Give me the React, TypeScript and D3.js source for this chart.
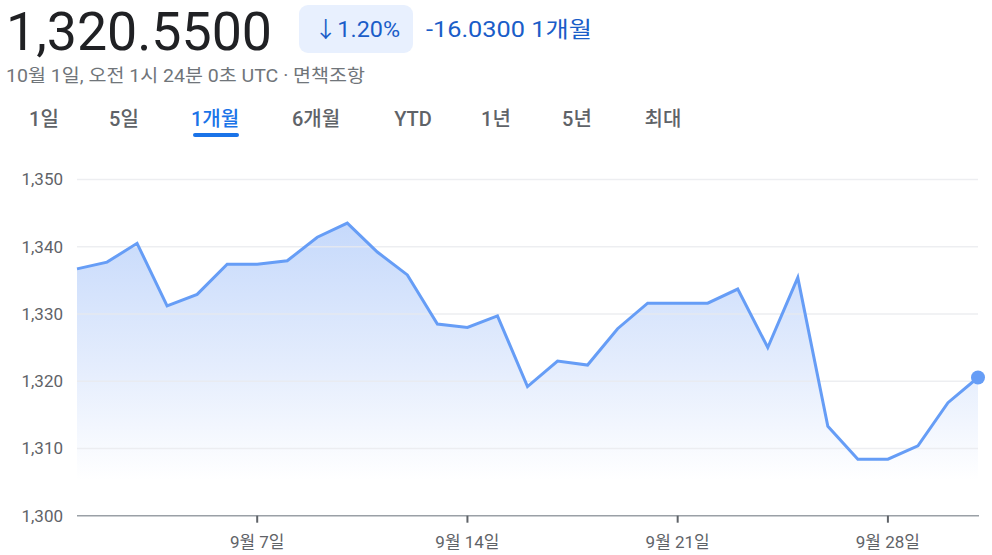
import React from "react";
import * as d3 from "d3";

const dates: string[] = [
  "2024-09-01","2024-09-02","2024-09-03","2024-09-04","2024-09-05","2024-09-06","2024-09-07",
  "2024-09-08","2024-09-09","2024-09-10","2024-09-11","2024-09-12","2024-09-13","2024-09-14",
  "2024-09-15","2024-09-16","2024-09-17","2024-09-18","2024-09-19","2024-09-20","2024-09-21",
  "2024-09-22","2024-09-23","2024-09-24","2024-09-25","2024-09-26","2024-09-27","2024-09-28",
  "2024-09-29","2024-09-30","2024-10-01",
];
const values: number[] = [
  1336.7, 1337.7, 1340.5, 1331.2, 1332.9, 1337.4, 1337.4,
  1337.9, 1341.4, 1343.5, 1339.2, 1335.8, 1328.5, 1328.0,
  1329.7, 1319.2, 1323.0, 1322.4, 1327.8, 1331.6, 1331.6,
  1331.6, 1333.7, 1325.0, 1335.4, 1313.3, 1308.4, 1308.4,
  1310.4, 1316.8, 1320.55,
];
const yTicks: number[] = [1300, 1310, 1320, 1330, 1340, 1350];
const xTickDates: string[] = ["2024-09-07", "2024-09-14", "2024-09-21", "2024-09-28"];
const xTickLabels: string[] = ["9월 7일", "9월 14일", "9월 21일", "9월 28일"];
const tabs: string[] = ["1일", "5일", "1개월", "6개월", "YTD", "1년", "5년", "최대"];
const tabX: number[] = [44, 124, 215, 316, 413, 496, 577, 663];
const selectedTab = 2;

const FONT = "Roboto, 'Noto Sans CJK KR', 'Noto Sans', sans-serif";

export default function App() {
  const W = 992, H = 555;
  const parse = d3.timeParse("%Y-%m-%d");
  const data = dates.map((d, i) => ({ date: parse(d) as Date, value: values[i] }));
  const x = d3.scaleTime()
    .domain([parse(dates[0]) as Date, parse(dates[dates.length - 1]) as Date])
    .range([77, 978]);
  const y = d3.scaleLinear().domain([1300, 1350]).range([515.7, 179.4]);

  const line = d3.line<{ date: Date; value: number }>()
    .x(d => x(d.date)).y(d => y(d.value));
  const area = d3.area<{ date: Date; value: number }>()
    .x(d => x(d.date)).y0(y(1300)).y1(d => y(d.value));
  const last = data[data.length - 1];

  return (
    <div style={{ position: "absolute", left: 0, top: 0, width: W, height: H, background: "#fff" }}>
      <svg width={W} height={H} style={{ display: "block", fontFamily: FONT }}>
        <defs>
          <linearGradient id="areaGrad" gradientUnits="userSpaceOnUse" x1="0" y1="215" x2="0" y2="480">
            <stop offset="0" stopColor="#c4d8fb" />
            <stop offset="0.6" stopColor="#e6eefd" />
            <stop offset="1" stopColor="#ffffff" />
          </linearGradient>
        </defs>

        {/* Header */}
        <text x={6} y={50} fontSize={54} fill="#202124" textLength={266} lengthAdjust="spacingAndGlyphs">1,320.5500</text>
        <rect x={299} y={5} width={114} height={48} rx={9} fill="#e8f0fe" />
        <text x={314} y={37} fontSize={22} fill="#1a5dc8" textLength={86} lengthAdjust="spacingAndGlyphs">↓1.20%</text>
        <text x={426} y={37} fontSize={22} fill="#1a5dc8" textLength={166} lengthAdjust="spacingAndGlyphs">-16.0300 1개월</text>
        <text x={6} y={82} fontSize={18} fill="#70757a" textLength={359} lengthAdjust="spacingAndGlyphs">10월 1일, 오전 1시 24분 0초 UTC · 면책조항</text>

        {/* Tabs */}
        {tabs.map((t, i) => (
          <text key={t} x={tabX[i]} y={126} fontSize={20} fontWeight={500} textAnchor="middle"
            fill={i === selectedTab ? "#1a73e8" : "#5f6368"}>{t}</text>
        ))}
        <rect x={193} y={133} width={46} height={4} rx={2} fill="#1a73e8" />

        {/* Area */}
        <path d={area(data) || ""} fill="url(#areaGrad)" />

        {/* Gridlines */}
        {yTicks.filter(t => t !== 1300).map(t => (
          <line key={t} x1={77} x2={978} y1={y(t)} y2={y(t)} stroke="#e8eaed" strokeOpacity={0.8} strokeWidth={1.5} />
        ))}
        {yTicks.map(t => (
          <text key={"yl" + t} x={63} y={y(t) + 6} fontSize={17} textAnchor="end" fill="#5f6368">
            {d3.format(",")(t)}
          </text>
        ))}

        {/* Baseline */}
        <line x1={77} x2={979} y1={y(1300)} y2={y(1300)} stroke="#9aa0a6" strokeWidth={1.5} />
        {xTickDates.map((d, i) => {
          const xx = x(parse(d) as Date);
          return (
            <g key={d}>
              <line x1={xx} x2={xx} y1={y(1300)} y2={y(1300) + 7} stroke="#5f6368" strokeWidth={2} />
              <text x={xx} y={548} fontSize={17} textAnchor="middle" fill="#5f6368">{xTickLabels[i]}</text>
            </g>
          );
        })}

        {/* Line */}
        <path d={line(data) || ""} fill="none" stroke="#669df6" strokeWidth={3} strokeLinejoin="miter" />
        <circle cx={x(last.date)} cy={y(last.value)} r={7} fill="#669df6" />
      </svg>
    </div>
  );
}
